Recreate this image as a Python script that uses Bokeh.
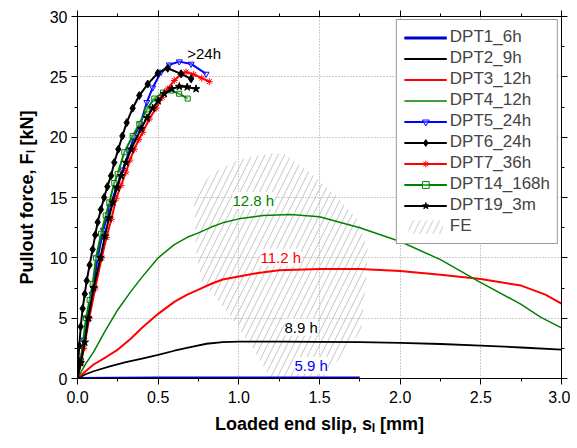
from bokeh.plotting import figure
from bokeh.models import (Range1d, LinearAxis, FixedTicker, Legend, LegendItem, Label)
from bokeh.embed import file_html
from bokeh.resources import INLINE

# ---------------- data ----------------
x_ticks = [0.0, 0.5, 1.0, 1.5, 2.0, 2.5, 3.0]
x_tick_labels = ["0.0", "0.5", "1.0", "1.5", "2.0", "2.5", "3.0"]
x_minor = [0.0, 0.25, 0.5, 0.75, 1.0, 1.25, 1.5, 1.75, 2.0, 2.25, 2.5, 2.75, 3.0]
y_ticks = [0, 5, 10, 15, 20, 25, 30]
y_tick_labels = ["0", "5", "10", "15", "20", "25", "30"]
y_minor = [0, 2.5, 5, 7.5, 10, 12.5, 15, 17.5, 20, 22.5, 25, 27.5, 30]

dpt1_x = [0.0, 0.5, 1.0, 1.5, 1.75]
dpt1_y = [0.0, 0.04, 0.05, 0.05, 0.05]

dpt2_x = [0, 0.05, 0.1, 0.2, 0.3, 0.4, 0.5, 0.6, 0.7, 0.8, 0.9, 1.0, 1.25, 1.5, 1.75,
          2.0, 2.25, 2.5, 2.75, 3.0]
dpt2_y = [0, 0.35, 0.6, 1.0, 1.35, 1.65, 1.95, 2.3, 2.6, 2.88, 3.02, 3.05, 3.05, 3.04, 3.01,
          2.96, 2.86, 2.73, 2.57, 2.4]

dpt3_x = [0, 0.05, 0.1, 0.18, 0.25, 0.33, 0.4, 0.5, 0.6, 0.68, 0.75, 0.83, 0.9, 1.0, 1.12,
          1.25, 1.5, 1.75, 2.0, 2.25, 2.5, 2.75, 2.9, 3.0]
dpt3_y = [0, 0.6, 1.16, 1.8, 2.4, 3.3, 4.2, 5.36, 6.35, 6.95, 7.37, 7.85, 8.2, 8.45, 8.75,
          8.98, 9.08, 9.08, 8.9, 8.6, 8.25, 7.7, 6.95, 6.2]

dpt4_x = [0, 0.05, 0.1, 0.17, 0.25, 0.33, 0.4, 0.5, 0.6, 0.68, 0.75, 0.83, 0.9, 1.0, 1.15,
          1.32, 1.5, 1.75, 2.0, 2.25, 2.5, 2.75, 2.87, 3.0]
dpt4_y = [0, 1.2, 2.2, 3.9, 5.7, 7.2, 8.4, 10.0, 11.1, 11.7, 12.07, 12.55, 12.9, 13.23, 13.5,
          13.59, 13.4, 12.5, 11.35, 9.85, 7.95, 6.15, 5.08, 4.2]

dpt5_x = [0, 0.02, 0.04, 0.063, 0.09, 0.125, 0.16, 0.2, 0.24, 0.28, 0.32, 0.35, 0.39,
          0.43, 0.466, 0.518, 0.569, 0.631, 0.704, 0.797]
dpt5_y = [0, 1.5, 3.2, 5.0, 7.0, 10.0, 12.3, 14.2, 15.8, 17.3, 18.8, 20.0, 21.1,
          22.9, 24.1, 25.4, 26.0, 26.26, 26.07, 25.24]

dpt6_x = [0, 0.005, 0.011, 0.02, 0.032, 0.045, 0.057, 0.075, 0.094, 0.11, 0.125, 0.145,
          0.165, 0.185, 0.208, 0.228, 0.253, 0.278, 0.305, 0.342, 0.383, 0.435, 0.497,
          0.559, 0.642, 0.704]
dpt6_y = [0, 1.5, 2.7, 4.3, 5.8, 7.0, 8.1, 9.4, 10.7, 11.9, 12.95, 14.0, 15.0, 15.9, 16.8,
          17.9, 19.0, 20.1, 21.2, 22.4, 23.45, 24.4, 25.3, 25.71, 25.25, 24.83]

dpt7_x = [0, 0.02, 0.04, 0.073, 0.11, 0.15, 0.18, 0.21, 0.239, 0.27, 0.30, 0.325, 0.352,
          0.38, 0.404, 0.445, 0.487, 0.525, 0.559, 0.6, 0.64, 0.673, 0.72, 0.77, 0.817]
dpt7_y = [0, 1.2, 2.5, 5.0, 7.5, 10.0, 11.7, 13.2, 14.9, 16.0, 17.1, 18.1, 19.0, 19.8,
          20.4, 21.5, 22.4, 23.3, 24.0, 24.7, 25.2, 25.4, 25.2, 24.9, 24.6]

dpt14_x = [0, 0.02, 0.053, 0.075, 0.094, 0.115, 0.146, 0.175, 0.197, 0.228, 0.249, 0.29,
           0.342, 0.383, 0.43, 0.476, 0.53, 0.58, 0.63, 0.683]
dpt14_y = [0, 1.5, 5.0, 6.5, 7.84, 10.0, 12.0, 13.5, 14.6, 16.2, 16.96, 18.75, 20.1,
           21.1, 22.3, 23.2, 23.7, 23.86, 23.6, 23.2]

dpt19_x = [0, 0.02, 0.045, 0.067, 0.1, 0.142, 0.17, 0.195, 0.218, 0.245, 0.27, 0.30,
           0.332, 0.394, 0.43, 0.466, 0.5, 0.538, 0.585, 0.631, 0.68, 0.735]
dpt19_y = [0, 1.3, 3.0, 5.0, 7.5, 10.0, 11.8, 13.3, 14.6, 15.8, 16.8, 17.9, 19.0, 20.7,
           21.6, 22.4, 23.0, 23.6, 24.0, 24.2, 24.15, 24.0]

fe_x = [1.20, 1.28, 1.448, 1.615, 1.739, 1.80, 1.789, 1.776, 1.758, 1.615, 1.51, 1.386,
        1.20, 1.094, 0.970, 0.871, 0.766, 0.735, 0.722, 0.828, 1.01]
fe_y = [18.64, 18.64, 16.98, 15.0, 13.09, 10.6, 8.12, 6.46, 3.98, 1.49, 0.0, -0.4,
        0.0, 2.32, 4.8, 6.46, 8.12, 10.6, 15.0, 16.98, 18.2]

ann_text = [">24h", "12.8 h", "11.2 h", "8.9 h", "5.9 h"]
ann_x = [0.68, 1.09, 1.26, 1.386, 1.448]
ann_y = [26.9, 14.75, 10.05, 4.25, 1.08]
ann_color = ["black", "green", "red", "black", "blue"]

FONT = "Liberation Sans"

p = figure(frame_width=484, frame_height=362,
           x_range=Range1d(0, 3), y_range=Range1d(0, 30),
           output_backend="svg", toolbar_location=None,
           min_border_left=77, min_border_right=9, min_border_top=16, min_border_bottom=62)
p.background_fill_color = "white"
p.outline_line_color = "black"

xt = FixedTicker(ticks=x_ticks, minor_ticks=x_minor)
yt = FixedTicker(ticks=y_ticks, minor_ticks=y_minor)

def style_axis(ax, ticker, labels, show_labels):
    ax.ticker = ticker
    ax.axis_line_color = "black"
    ax.major_tick_line_color = "black"
    ax.minor_tick_line_color = "black"
    ax.major_tick_out = 6
    ax.major_tick_in = 0
    ax.minor_tick_out = 3
    ax.minor_tick_in = 0
    if show_labels:
        ax.major_label_overrides = labels
        ax.major_label_text_font = FONT
        ax.major_label_text_font_size = "16px"
        ax.major_label_text_color = "black"
        ax.axis_label_text_font = FONT
        ax.axis_label_text_font_size = "18px"
        ax.axis_label_text_font_style = "bold"
        ax.axis_label_text_color = "black"
    else:
        ax.major_label_text_font_size = "0px"
        ax.major_label_text_color = None
        ax.major_label_standoff = 0
        ax.axis_label = None

xl = {v: s for v, s in zip(x_ticks, x_tick_labels)}
yl = {v: s for v, s in zip(y_ticks, y_tick_labels)}

style_axis(p.xaxis[0], xt, xl, True)
style_axis(p.yaxis[0], yt, yl, True)
p.xaxis[0].axis_label = "Loaded end slip, s\u2097 [mm]"
p.yaxis[0].axis_label = "Pullout force, F\u2097 [kN]"
p.xaxis[0].major_label_standoff = 6
p.xaxis[0].axis_label_standoff = 8
p.yaxis[0].major_label_standoff = 4
p.yaxis[0].axis_label_standoff = 10

top_ax = LinearAxis()
style_axis(top_ax, xt, None, False)
p.add_layout(top_ax, "above")
right_ax = LinearAxis()
style_axis(right_ax, yt, None, False)
p.add_layout(right_ax, "right")

for g, t in ((p.xgrid[0], xt), (p.ygrid[0], yt)):
    g.ticker = t
    g.grid_line_color = "#9a9a9a"
    g.grid_line_dash = "1 2"
    g.grid_line_width = 1

# FE region
fe_r = p.patch(fe_x, fe_y, fill_color=None, line_color=None,
               hatch_pattern="/", hatch_color="#c4c4c4", hatch_scale=13, hatch_weight=1)

r1 = p.line(dpt1_x, dpt1_y, line_color="#0000cc", line_width=3)
r2 = p.line(dpt2_x, dpt2_y, line_color="black", line_width=1.8)
r3 = p.line(dpt3_x, dpt3_y, line_color="red", line_width=2)
r4 = p.line(dpt4_x, dpt4_y, line_color="green", line_width=1.5)

r5l = p.line(dpt5_x, dpt5_y, line_color="blue", line_width=2)
r5m = p.scatter(dpt5_x, dpt5_y, marker="inverted_triangle", size=6, line_color="blue",
                fill_color="white", fill_alpha=0.3)
r14l = p.line(dpt14_x, dpt14_y, line_color="green", line_width=2)
r14m = p.scatter(dpt14_x, dpt14_y, marker="square", size=5, line_color="green",
                 fill_color="white", fill_alpha=0.3)
r7l = p.line(dpt7_x, dpt7_y, line_color="red", line_width=2)
r7m = p.scatter(dpt7_x, dpt7_y, marker="asterisk", size=7, line_color="red")
r19l = p.line(dpt19_x, dpt19_y, line_color="black", line_width=2)
r19m = p.scatter(dpt19_x, dpt19_y, marker="star", size=8, line_color="black",
                 fill_color="black")
r6l = p.line(dpt6_x, dpt6_y, line_color="black", line_width=2)
r6m = p.scatter(dpt6_x, dpt6_y, marker="diamond", size=8, line_color="black",
                fill_color="black")

for t, x, y, c in zip(ann_text, ann_x, ann_y, ann_color):
    lab = Label(x=x, y=y, text=t, text_color=c, text_font=FONT, text_font_size="15px",
                text_align="left" if t.startswith(">") else "center",
                text_baseline="middle")
    if not t.startswith(">"):
        lab.background_fill_color = "white"
    p.add_layout(lab)

items = [
    LegendItem(label="DPT1_6h", renderers=[r1]),
    LegendItem(label="DPT2_9h", renderers=[r2]),
    LegendItem(label="DPT3_12h", renderers=[r3]),
    LegendItem(label="DPT4_12h", renderers=[r4]),
    LegendItem(label="DPT5_24h", renderers=[r5l, r5m]),
    LegendItem(label="DPT6_24h", renderers=[r6l, r6m]),
    LegendItem(label="DPT7_36h", renderers=[r7l, r7m]),
    LegendItem(label="DPT14_168h", renderers=[r14l, r14m]),
    LegendItem(label="DPT19_3m", renderers=[r19l, r19m]),
    LegendItem(label="FE", renderers=[fe_r]),
]
legend = Legend(items=items, location="top_right", margin=3, padding=7, spacing=1,
                glyph_width=43, glyph_height=17, label_height=17, label_standoff=3,
                label_text_font=FONT, label_text_font_size="17px",
                border_line_color="#333333", border_line_width=1,
                background_fill_color="white", background_fill_alpha=1)
p.add_layout(legend)

open("out.html", "w").write(file_html(p, INLINE))
